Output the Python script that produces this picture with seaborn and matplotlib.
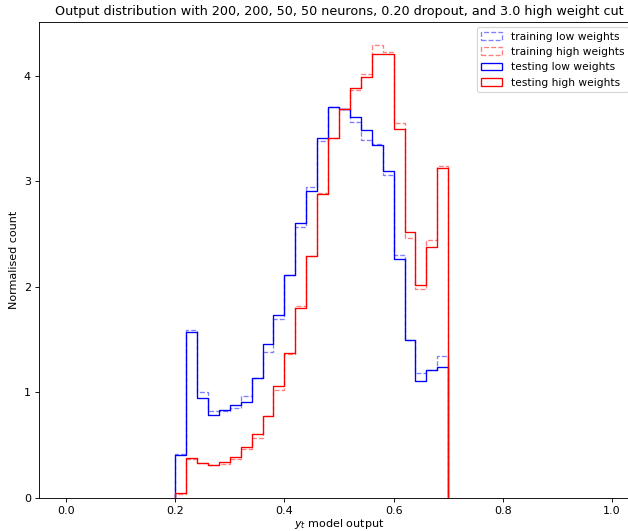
import numpy as np
import pandas as pd
import matplotlib
matplotlib.use("Agg")
import matplotlib.pyplot as plt
from matplotlib.patches import Patch
import seaborn as sns

# bin edges: 25 bins of width 0.02 from 0.2 to 0.7
bin_width = 0.02
bin_edges = [round(0.2 + bin_width * k, 3) for k in range(26)]

train_low = [0.42, 1.59, 1.00, 0.82, 0.82, 0.85, 0.97, 1.14, 1.38, 1.70, 2.11, 2.57, 2.95,
             3.38, 3.70, 3.69, 3.56, 3.39, 3.35, 3.06, 2.30, 1.50, 1.18, 1.21, 1.35]
train_high = [0.04, 0.37, 0.33, 0.31, 0.32, 0.37, 0.46, 0.57, 0.78, 1.02, 1.36, 1.82, 2.29,
              2.89, 3.41, 3.69, 3.87, 4.02, 4.29, 4.23, 3.55, 2.46, 1.98, 2.44, 3.15]
test_low = [0.41, 1.57, 0.95, 0.79, 0.83, 0.88, 0.91, 1.14, 1.46, 1.73, 2.11, 2.61, 2.91,
            3.41, 3.70, 3.69, 3.61, 3.49, 3.34, 3.10, 2.26, 1.50, 1.11, 1.21, 1.24]
test_high = [0.05, 0.38, 0.33, 0.31, 0.34, 0.39, 0.48, 0.61, 0.78, 1.06, 1.37, 1.80, 2.29,
             2.88, 3.41, 3.69, 3.88, 3.99, 4.21, 4.21, 3.50, 2.52, 2.02, 2.38, 3.13]

labels = ["training low weights", "training high weights",
          "testing low weights", "testing high weights"]
title = "Output distribution with 200, 200, 50, 50 neurons, 0.20 dropout, and 3.0 high weight cut"

sns.set_style("ticks", {"axes.edgecolor": "black", "text.color": "black",
                        "axes.labelcolor": "black", "xtick.color": "black",
                        "ytick.color": "black"})
plt.rcParams['font.family'] = ['DejaVu Sans']

# pad with a vanishingly thin empty bin on each side so the step outline
# drops to zero at the ends (like a matplotlib 'step' histogram)
eps = 1e-6
pad_edges = [bin_edges[0] - eps] + bin_edges + [bin_edges[-1] + eps]
pad_centers = [(a + b) / 2 for a, b in zip(pad_edges[:-1], pad_edges[1:])]

fig = plt.figure(figsize=(628 / 80, 531 / 80), dpi=80)
ax = fig.add_axes([38.7 / 628, 33 / 531, 600.6 / 628, 476 / 531])

series = [
    (train_low, "blue", "--", 0.5),
    (train_high, "red", "--", 0.5),
    (test_low, "blue", "-", 1.0),
    (test_high, "red", "-", 1.0),
]
handles = []
for (vals, col, ls, a), lab in zip(series, labels):
    df = pd.DataFrame({"x": pad_centers, "w": [0.0] + list(vals) + [0.0]})
    sns.histplot(data=df, x="x", weights="w", bins=pad_edges, element="step",
                 fill=False, color=col, linestyle=ls, alpha=a, linewidth=1.2, ax=ax)
    handles.append(Patch(facecolor="none", edgecolor=col, linestyle=ls, alpha=a,
                         linewidth=1.2, label=lab))

ax.set_xlim(-0.05, 1.05)
ax.set_ylim(0, 4.51)
ax.set_xticks([0.0, 0.2, 0.4, 0.6, 0.8, 1.0])
ax.set_yticks([0, 1, 2, 3, 4])
ax.set_xlabel("$y_t$ model output", fontsize=10, labelpad=1.5)
ax.set_ylabel("Normalised count", fontsize=10)
ax.set_title(title, fontsize=11.5)
ax.tick_params(labelsize=10, length=3.5, width=0.8)
for s in ax.spines.values():
    s.set_visible(True)
    s.set_color("black")
    s.set_linewidth(0.8)
ax.legend(handles=handles, loc="upper right", bbox_to_anchor=(0.991, 1.0), fontsize=9.6)

fig.savefig("out.png", dpi=80)
